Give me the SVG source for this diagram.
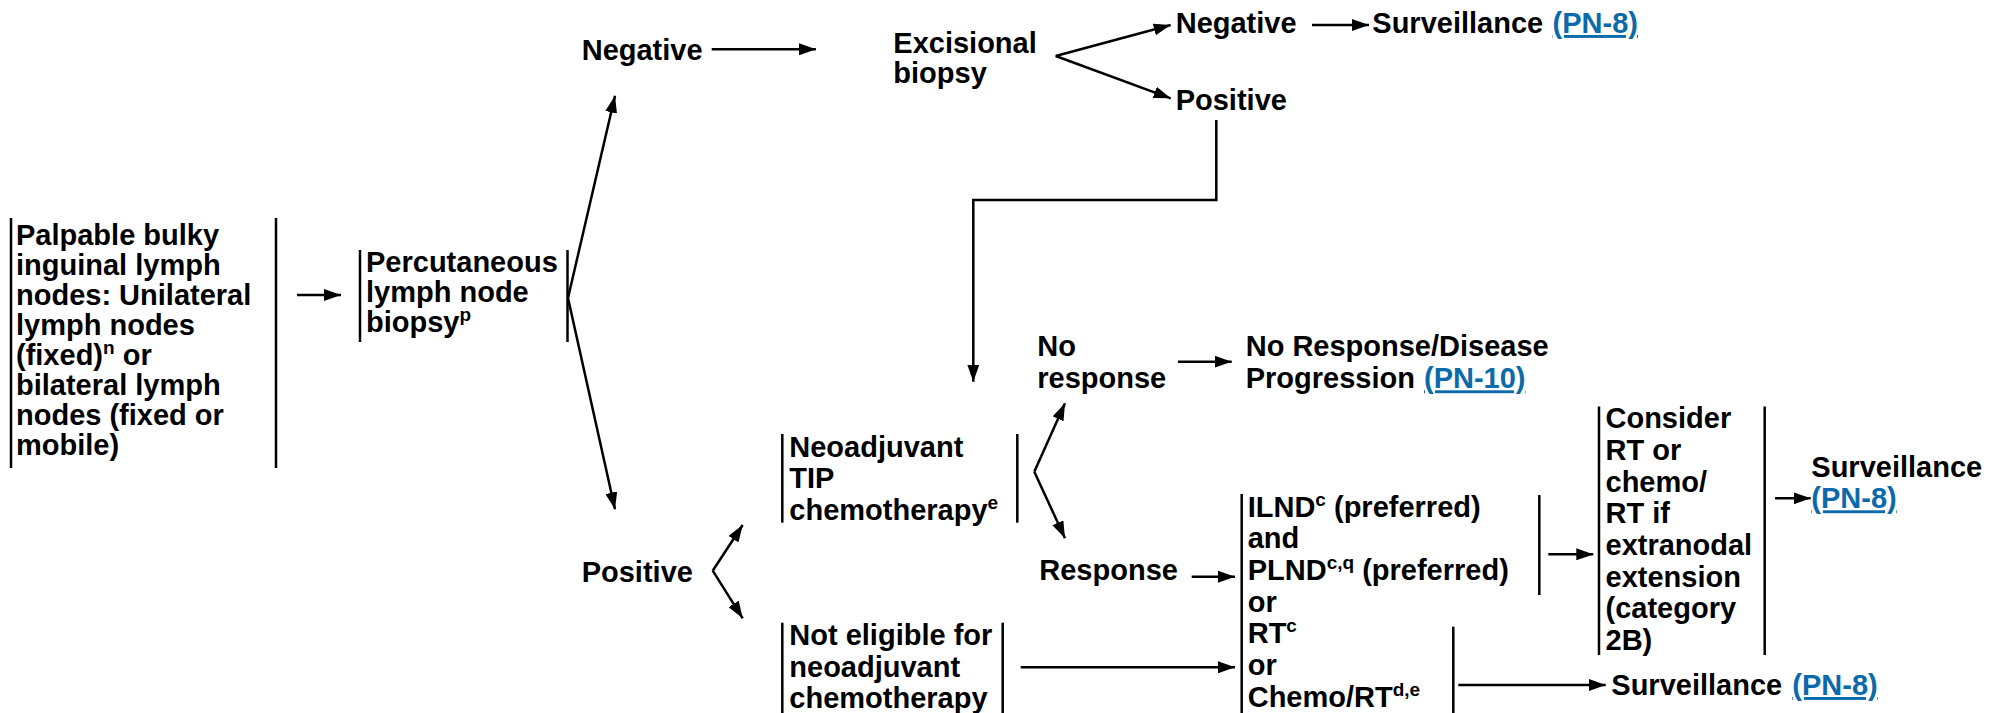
<svg xmlns="http://www.w3.org/2000/svg" width="2001" height="713" viewBox="0 0 2001 713">
<style>
text{font-family:"Liberation Sans",Arial,Helvetica,sans-serif;font-weight:bold;font-size:29px;fill:#000}
.sup{font-size:19px}
.link{fill:#0b6aa9;text-decoration:underline}
.bar{stroke:#000;stroke-width:2.5;fill:none}
.con{stroke:#000;stroke-width:2.5;fill:none}
.arr{marker-end:url(#ah)}
</style>
<defs>
<marker id="ah" markerUnits="userSpaceOnUse" markerWidth="17" markerHeight="12" refX="17" refY="6" orient="auto">
<path d="M0,0 L17,6 L0,12 z" fill="#000"/>
</marker>
</defs>
<rect width="2001" height="713" fill="#fff"/>

<g id="connectors">
<line class="con arr" x1="297" y1="295" x2="341" y2="295"/>
<line class="con arr" x1="568" y1="298" x2="615" y2="95.7"/>
<line class="con arr" x1="568" y1="298" x2="615" y2="509.3"/>
<line class="con arr" x1="711.7" y1="49.3" x2="816" y2="49.3"/>
<line class="con arr" x1="1055.7" y1="56" x2="1170.7" y2="25"/>
<line class="con arr" x1="1055.7" y1="56" x2="1170.7" y2="98.3"/>
<line class="con arr" x1="1312" y1="25" x2="1369" y2="25"/>
<path class="con arr" d="M1216.3,120 V200 H973.3 V381.7"/>
<line class="con arr" x1="712.7" y1="570.7" x2="742.7" y2="525"/>
<line class="con arr" x1="712.7" y1="570.7" x2="742.7" y2="618.3"/>
<line class="con arr" x1="1034.3" y1="471.7" x2="1065" y2="403.3"/>
<line class="con arr" x1="1034.3" y1="471.7" x2="1065" y2="538.3"/>
<line class="con arr" x1="1178" y1="361.7" x2="1231.7" y2="361.7"/>
<line class="con arr" x1="1191.7" y1="576.7" x2="1235" y2="576.7"/>
<line class="con arr" x1="1020.7" y1="667.3" x2="1235" y2="667.3"/>
<line class="con arr" x1="1548.3" y1="554.3" x2="1593.3" y2="554.3"/>
<line class="con arr" x1="1458.3" y1="685" x2="1605.7" y2="685"/>
<line class="con arr" x1="1775" y1="498.3" x2="1810.7" y2="498.3"/>
</g>

<g id="n-palpable">
<line class="bar" x1="11" y1="218" x2="11" y2="468"/>
<line class="bar" x1="276" y1="218" x2="276" y2="468"/>
<text x="16" y="245">Palpable bulky</text>
<text x="16" y="275">inguinal lymph</text>
<text x="16" y="305">nodes: Unilateral</text>
<text x="16" y="335">lymph nodes</text>
<text x="16" y="365">(fixed)<tspan class="sup" dy="-11">n</tspan><tspan dy="11"> or</tspan></text>
<text x="16" y="395">bilateral lymph</text>
<text x="16" y="425">nodes (fixed or</text>
<text x="16" y="455">mobile)</text>
</g>

<g id="n-percutaneous">
<line class="bar" x1="360" y1="250" x2="360" y2="342"/>
<line class="bar" x1="567.5" y1="250" x2="567.5" y2="342"/>
<text x="366" y="272">Percutaneous</text>
<text x="366" y="302">lymph node</text>
<text x="366" y="332">biopsy<tspan class="sup" dy="-11">p</tspan></text>
</g>

<g id="n-negative1">
<text x="581.7" y="60">Negative</text>
</g>

<g id="n-excisional">
<text x="893.3" y="53">Excisional</text>
<text x="893.3" y="83">biopsy</text>
</g>

<g id="n-negative2">
<text x="1175.7" y="33">Negative</text>
</g>

<g id="n-positive2">
<text x="1175.7" y="110">Positive</text>
</g>

<g id="n-surv1">
<text x="1372.3" y="33">Surveillance</text>
<text x="1552.6" y="33" class="link">(PN-8)</text>
</g>

<g id="n-positive1">
<text x="581.7" y="581.7">Positive</text>
</g>

<g id="n-noresponse">
<text x="1037.3" y="356">No</text>
<text x="1037.3" y="388">response</text>
</g>

<g id="n-neoadjuvant">
<line class="bar" x1="782.3" y1="434" x2="782.3" y2="522.7"/>
<line class="bar" x1="1017.3" y1="434" x2="1017.3" y2="522.7"/>
<text x="789.3" y="456.7">Neoadjuvant</text>
<text x="789.3" y="488.3">TIP</text>
<text x="789.3" y="520">chemotherapy<tspan class="sup" dy="-11">e</tspan></text>
</g>

<g id="n-response">
<text x="1039.3" y="580">Response</text>
</g>

<g id="n-noteligible">
<line class="bar" x1="782.3" y1="622.7" x2="782.3" y2="713"/>
<line class="bar" x1="1002.7" y1="622.7" x2="1002.7" y2="713"/>
<text x="789.3" y="645">Not eligible for</text>
<text x="789.3" y="676.7">neoadjuvant</text>
<text x="789.3" y="708.3">chemotherapy</text>
</g>

<g id="n-progression">
<text x="1245.7" y="356">No Response/Disease</text>
<text x="1245.7" y="388.3">Progression</text>
<text x="1424" y="388.3" class="link">(PN-10)</text>
</g>

<g id="n-ilnd">
<line class="bar" x1="1241.7" y1="494" x2="1241.7" y2="713"/>
<line class="bar" x1="1539.3" y1="495" x2="1539.3" y2="595"/>
<line class="bar" x1="1453.3" y1="626.7" x2="1453.3" y2="713"/>
<text x="1247.7" y="516.7">ILND<tspan class="sup" dy="-11">c</tspan><tspan dy="11"> (preferred)</tspan></text>
<text x="1247.7" y="548.3">and</text>
<text x="1247.7" y="580">PLND<tspan class="sup" dy="-11">c,q</tspan><tspan dy="11"> (preferred)</tspan></text>
<text x="1247.7" y="611.7">or</text>
<text x="1247.7" y="643.3">RT<tspan class="sup" dy="-11">c</tspan></text>
<text x="1247.7" y="675">or</text>
<text x="1247.7" y="706.7">Chemo/RT<tspan class="sup" dy="-11">d,e</tspan></text>
</g>

<g id="n-consider">
<line class="bar" x1="1599" y1="406.5" x2="1599" y2="655"/>
<line class="bar" x1="1764.7" y1="406.5" x2="1764.7" y2="655"/>
<text x="1605.5" y="428.3">Consider</text>
<text x="1605.5" y="460">RT or</text>
<text x="1605.5" y="491.7">chemo/</text>
<text x="1605.5" y="523.3">RT if</text>
<text x="1605.5" y="555">extranodal</text>
<text x="1605.5" y="586.7">extension</text>
<text x="1605.5" y="618.3">(category</text>
<text x="1605.5" y="650">2B)</text>
</g>

<g id="n-surv2">
<text x="1811.3" y="476.7">Surveillance</text>
<text x="1811.3" y="508.3" class="link">(PN-8)</text>
</g>

<g id="n-surv3">
<text x="1611.3" y="695">Surveillance</text>
<text x="1792.3" y="695" class="link">(PN-8)</text>
</g>
</svg>
